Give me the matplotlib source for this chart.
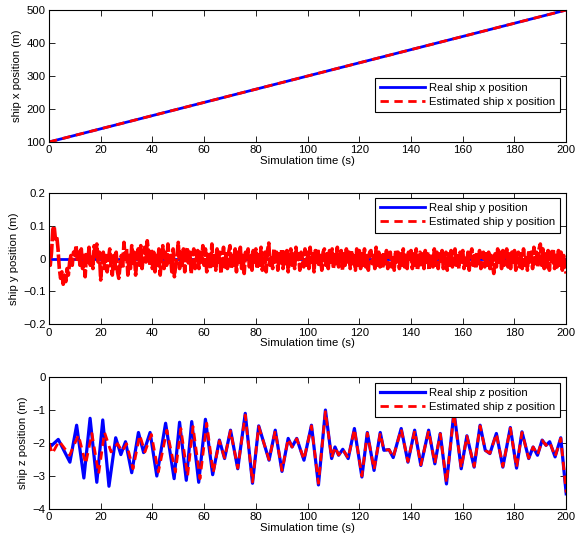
import numpy as np
import matplotlib
matplotlib.use("Agg")
from matplotlib import pyplot as plt
from matplotlib.lines import Line2D

plt.rcParams['font.family'] = ['Liberation Sans', 'DejaVu Sans']
plt.rcParams['font.size'] = 8.2

# x position (straight line)
t_x = [0, 200]
x_real = [100, 500]
x_est = [100, 500]

# y position
t_y_real = [0, 200]
y_real = [0, 0]
y_est = [
    0.01, -0.02, 0.02, 0.09, 0.10, 0.06, 0.07, 0.03, -0.03, -0.06, -0.04, -0.078, -0.05, -0.07, -0.03, -0.05, -0.01, 0.01, -0.02, 0.02,
    0.01, 0.04, -0.01, 0.02, -0.02, 0.03, -0.03, 0.01, -0.055, 0.02, -0.01, 0.035, -0.02, 0.01, -0.03, 0.04, 0.0, 0.045, -0.01, 0.02,
    -0.065, -0.01, 0.02, -0.03, 0.01, -0.04, 0.0, 0.03, -0.02, -0.05, 0.01, -0.03, 0.02, -0.04, -0.06, -0.02, 0.01, -0.03, 0.05, 0.0,
    0.03, -0.05, 0.01, -0.03, 0.04, -0.02, 0.02, -0.05, 0.0, 0.03, -0.02, 0.04, -0.03, 0.01, 0.035, -0.01, 0.055, 0.02, -0.02, 0.03,
    -0.03, 0.02, -0.04, 0.01, -0.02, 0.03, -0.05, 0.0, 0.04, -0.03, 0.02, -0.02, 0.045, -0.01, 0.01, -0.04, 0.03, -0.055, -0.02, 0.01,
    0.05, -0.03, 0.02, -0.02, 0.03, -0.04, 0.01, 0.035, -0.02, 0.02, -0.045, 0.01, 0.03, -0.03, 0.0, 0.025, -0.03, 0.02, -0.01, 0.04,
    -0.02, 0.03, -0.04, 0.01, 0.02, -0.03, 0.045, -0.02, 0.01, -0.035, 0.03, -0.01, 0.02, -0.045, 0.0, 0.035, -0.025, 0.015, -0.03, 0.02,
    0.04, -0.03, 0.01, -0.02, 0.03, -0.04, 0.02, -0.01, 0.035, -0.03, 0.01, -0.045, 0.02, 0.0, 0.03, -0.025, 0.01, -0.035, 0.025, -0.01,
    0.03, -0.03, 0.02, -0.02, 0.035, -0.035, 0.01, 0.02, -0.04, 0.025, 0.048, -0.02, 0.01, -0.03, 0.03, -0.01, 0.02, -0.035, 0.015, -0.02,
    0.03, -0.03, 0.02, -0.015, 0.025, -0.04, 0.01, 0.03, -0.02, 0.02, -0.03, 0.035, -0.01, 0.015, -0.035, 0.02, 0.0, -0.025, 0.03, -0.02,
    0.02, -0.03, 0.035, -0.01, 0.015, -0.04, 0.025, -0.02, 0.03, -0.025, 0.01, -0.035, 0.02, 0.03, -0.02, 0.015, -0.03, 0.025, -0.01, 0.03,
    -0.03, 0.02, -0.015, 0.035, -0.025, 0.01, 0.025, -0.035, 0.015, -0.02, 0.03, -0.01, 0.02, -0.03, 0.025, -0.015, 0.01, -0.035, 0.03, -0.02,
    0.025, -0.03, 0.015, -0.02, 0.03, -0.025, 0.01, -0.035, 0.02, 0.025, -0.015, 0.01, -0.03, 0.035, -0.02, 0.02, -0.025, 0.01, -0.03, 0.02,
    -0.015, 0.025, -0.03, 0.015, 0.02, -0.025, 0.01, -0.035, 0.025, -0.01, 0.02, -0.03, 0.015, -0.02, 0.03, -0.025, 0.01, -0.03, 0.02, 0.0,
    0.025, -0.03, 0.015, -0.02, 0.03, -0.035, 0.01, 0.02, -0.025, 0.015, -0.03, 0.025, -0.01, 0.02, -0.035, 0.015, 0.0, -0.025, 0.03, -0.02,
    0.02, -0.03, 0.015, -0.015, 0.025, -0.03, 0.01, 0.02, -0.035, 0.015, -0.02, 0.025, -0.025, 0.01, 0.03, -0.02, 0.015, -0.03, 0.02, -0.01,
    0.025, -0.03, 0.01, -0.02, 0.02, -0.035, 0.015, 0.03, -0.02, 0.01, -0.03, 0.02, -0.015, 0.025, -0.03, 0.01, 0.02, -0.025, 0.015, -0.02,
    0.02, -0.03, 0.01, -0.02, -0.045, 0.015, -0.025, 0.03, -0.01, 0.02, -0.03, 0.025, -0.02, 0.01, 0.03, -0.025, 0.015, -0.03, 0.02, -0.01,
    0.025, -0.035, 0.01, 0.02, -0.025, 0.015, -0.03, 0.03, -0.02, 0.01, -0.035, 0.025, -0.01, 0.02, -0.03, 0.035, -0.015, 0.02, -0.025, 0.03,
    0.045, -0.02, 0.03, -0.03, 0.015, -0.025, 0.025, -0.035, 0.02, -0.01, 0.03, -0.03, 0.01, -0.025, 0.025, -0.02, 0.02, -0.035, 0.01, -0.03,
    -0.045,
]
t_y_est = np.linspace(0, 200, len(y_est))

# z position: turning points
t_z_real = [0, 3.6, 8.1, 10.7, 13.5, 15.9, 18.5, 20.8, 23.2, 25.8, 27.8, 29.6, 32.0, 34.6, 36.6, 39.1,
            41.7, 45.1, 48.4, 50.5, 53.1, 55.2, 57.9, 60.5, 63.3, 65.9, 67.9, 70.2, 73.0, 75.9, 78.7,
            81.1, 85.1, 87.5, 90.1, 92.5, 94.0, 95.8, 98.6, 101.5, 104.2, 106.9, 109.3, 110.6, 112.0,
            113.6, 115.7, 118.1, 121.0, 123.1, 125.7, 128.1, 129.5, 131.5, 133.1, 136.2, 138.8, 141.4,
            143.8, 146.8, 149.2, 151.3, 153.7, 156.6, 159.4, 161.6, 164.4, 166.7, 168.7, 170.5, 173.0,
            175.5, 178.4, 180.8, 182.9, 185.5, 187.2, 188.9, 190.7, 192.2, 193.6, 195.7, 197.9, 200]
z_real = [-2.15, -1.89, -2.58, -1.46, -3.06, -1.25, -3.19, -1.30, -3.31, -1.84, -2.35, -1.96, -2.90, -1.68, -2.29, -1.68,
          -3.0, -1.40, -3.08, -1.37, -3.13, -1.35, -3.19, -1.28, -2.96, -1.91, -2.47, -1.61, -2.78, -1.10, -3.22,
          -1.48, -2.52, -1.61, -2.86, -1.86, -2.12, -1.86, -2.52, -1.46, -3.27, -1.0, -2.47, -2.12, -2.37,
          -2.19, -2.47, -1.56, -3.03, -1.68, -2.83, -1.68, -2.22, -2.2, -2.44, -1.56, -2.58, -1.61,
          -2.68, -1.61, -2.63, -1.71, -3.24, -1.05, -2.78, -1.78, -2.73, -1.46, -2.22, -2.32, -1.71,
          -2.73, -1.53, -2.76, -1.66, -2.47, -2.12, -2.37, -1.91, -2.07, -1.96, -2.42, -1.84, -3.54]

t_z_est = [0, 1.3, 3.9, 8.0, 11.4, 14.2, 16.6, 19.2, 21.5, 24.0, 26.5, 28.3, 30.0, 32.5, 35.1, 37.1, 39.6,
           42.3, 45.6, 48.9, 51.0, 53.6, 55.7, 58.4, 61.0, 63.5, 65.9, 67.9, 70.2, 73.0, 75.9, 78.7,
           81.1, 85.1, 87.5, 90.1, 92.5, 94.0, 95.8, 98.6, 101.5, 104.2, 106.9, 109.3, 110.6, 112.0,
           113.6, 115.7, 118.1, 121.0, 123.1, 125.7, 128.1, 129.5, 131.5, 133.1, 136.2, 138.8, 141.4,
           143.8, 146.8, 149.2, 151.3, 153.7, 156.6, 159.4, 161.6, 164.4, 166.7, 168.7, 170.5, 173.0,
           175.5, 178.4, 180.8, 182.9, 185.5, 187.2, 188.9, 190.7, 192.2, 193.6, 195.7, 197.9, 200]
z_est = [-2.0, -2.32, -1.94, -2.37, -1.76, -2.63, -1.71, -2.93, -1.68, -2.27, -2.02, -2.25, -2.02, -2.78, -1.76, -2.27, -1.74,
         -2.88, -1.61, -2.88, -1.56, -3.0, -1.5, -3.08, -1.40, -2.9, -1.93, -2.45, -1.63, -2.76, -1.15, -3.18,
         -1.50, -2.50, -1.63, -2.83, -1.87, -2.12, -1.87, -2.50, -1.48, -3.22, -1.05, -2.45, -2.12, -2.36,
         -2.19, -2.46, -1.58, -3.0, -1.70, -2.80, -1.70, -2.22, -2.2, -2.43, -1.58, -2.56, -1.63,
         -2.66, -1.63, -2.61, -1.72, -3.2, -1.1, -2.76, -1.79, -2.71, -1.48, -2.22, -2.31, -1.72,
         -2.71, -1.55, -2.74, -1.68, -2.46, -2.12, -2.36, -1.92, -2.07, -1.97, -2.41, -1.86, -3.5]

DASH = (0, (3, 2))


def style_axes(ax, ylabel):
    ax.set_xlim(0, 200)
    ax.set_xticks(np.arange(0, 201, 20))
    ax.set_xlabel('Simulation time (s)', labelpad=0.5)
    ax.set_ylabel(ylabel, labelpad=3)
    ax.tick_params(direction='in', top=True, right=True, length=4.5, width=0.6, pad=2.5)
    for s in ax.spines.values():
        s.set_linewidth(0.8)


def add_legend(ax, loc, anchor, handles=None, labels=None):
    kw = dict(loc=loc, bbox_to_anchor=anchor, fancybox=False, framealpha=1,
              edgecolor='black', handlelength=3.9, handletextpad=0.35,
              borderpad=0.45, labelspacing=0.35, borderaxespad=0)
    if handles is None:
        leg = ax.legend(**kw)
    else:
        leg = ax.legend(handles, labels, **kw)
    leg.get_frame().set_linewidth(0.8)


fig = plt.figure(figsize=(5.76, 5.43), dpi=100)
left, width = 0.085, 0.898

ax1 = fig.add_axes([left, 0.7385, width, 0.243])
ax1.plot(t_x, x_real, color='blue', lw=2, label='Real ship x position')
ax1.plot(t_x, x_est, color='red', lw=2, ls=DASH, label='Estimated ship x position')
ax1.set_ylim(100, 500)
ax1.set_yticks(np.arange(100, 501, 100))
style_axes(ax1, 'ship x position (m)')
add_legend(ax1, 'lower right', (0.988, 0.227))

ax2 = fig.add_axes([left, 0.403, width, 0.241])
ax2.plot(t_y_real, y_real, color='blue', lw=2)
# the estimate is sampled so densely that its dashes close up into a band
ax2.plot(t_y_est, y_est, color='red', lw=2.6, ls=(0, (4, 0.7)))
style_axes(ax2, 'ship y position (m)')
ax2.set_ylim(-0.2, 0.2)
ax2.set_yticks([-0.2, -0.1, 0, 0.1, 0.2])
ax2.set_yticklabels(['\u22120.2', '\u22120.1', '0', '0.1', '0.2'])
add_legend(ax2, 'upper right', (0.988, 0.962),
           [Line2D([], [], color='blue', lw=2), Line2D([], [], color='red', lw=2, ls=DASH)],
           ['Real ship y position', 'Estimated ship y position'])

ax3 = fig.add_axes([left, 0.0626, width, 0.243])
ax3.plot(t_z_real, z_real, color='blue', lw=2.3, solid_joinstyle='round', label='Real ship z position')
ax3.plot(t_z_est, z_est, color='red', lw=2, ls=DASH, dash_joinstyle='round', label='Estimated ship z position')
ax3.set_ylim(-4, 0)
ax3.set_yticks([-4, -3, -2, -1, 0])
ax3.set_yticklabels(['\u22124', '\u22123', '\u22122', '\u22121', '0'])
style_axes(ax3, 'ship z position (m)')
add_legend(ax3, 'upper right', (0.988, 0.955))

fig.savefig('out.png', dpi=100)
